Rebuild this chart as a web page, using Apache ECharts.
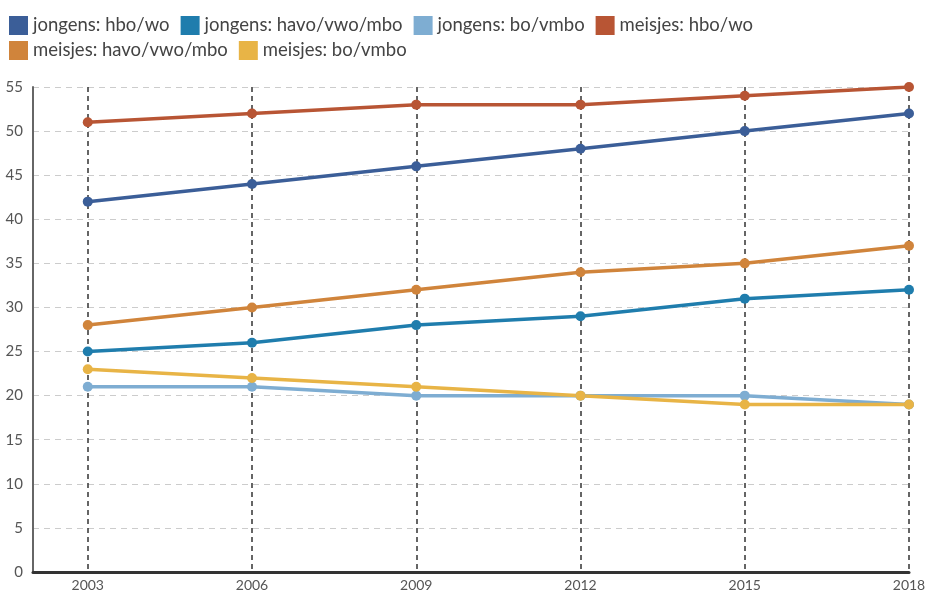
<!DOCTYPE html>
<html><head><meta charset="utf-8">
<script src="https://cdn.jsdelivr.net/npm/echarts@6/dist/echarts.min.js"></script>
<style>html,body{margin:0;padding:0;background:#fff}#c{width:926px;height:591px}</style>
</head><body><div id="c"></div>
<script>
const years = [2003, 2006, 2009, 2012, 2015, 2018];
const seriesNames = ['jongens: hbo/wo','jongens: havo/vwo/mbo','jongens: bo/vmbo','meisjes: hbo/wo','meisjes: havo/vwo/mbo','meisjes: bo/vmbo'];
const jongensHbo = [42,44,46,48,50,52];
const jongensHavo = [25,26,28,29,31,32];
const jongensBo = [21,21,20,20,20,19];
const meisjesHbo = [51,52,53,53,54,55];
const meisjesHavo = [28,30,32,34,35,37];
const meisjesBo = [23,22,21,20,19,19];
const yTicks = [0,5,10,15,20,25,30,35,40,45,50,55];
const colors = ['#3b5e98','#1f7dad','#7eadd2','#b85534','#d0843b','#e8b446'];
const allData = [jongensHbo,jongensHavo,jongensBo,meisjesHbo,meisjesHavo,meisjesBo];

const legendBase = {
  left:4, itemWidth:19, itemHeight:19, itemGap:11, icon:'rect',
  textStyle:{fontFamily:'Lato', fontSize:18.5, color:'#444'}
};
const chart = echarts.init(document.getElementById('c'));
chart.setOption({
  animation:false,
  color:colors,
  legend:[
    Object.assign({}, legendBase, {top:11, data:seriesNames.slice(0,4)}),
    Object.assign({}, legendBase, {top:36, data:seriesNames.slice(4)})
  ],
  grid:{left:33, right:17, top:87, bottom:19, outerBoundsMode:'none', containLabel:false},
  xAxis:{
    type:'value', min:2002, max:2018,
    axisLine:{lineStyle:{color:'#333', width:3}},
    axisTick:{show:false, customValues:years},
    axisLabel:{customValues:years, formatter:v=>String(v), fontFamily:'Lato', fontSize:14, color:'#555', margin:6},
    splitLine:{show:true, lineStyle:{color:'#333', type:[5,4], width:1.5}}
  },
  yAxis:{
    type:'value', min:0, max:55, interval:5,
    axisLine:{show:true, lineStyle:{color:'#666', width:2}},
    axisTick:{show:false},
    axisLabel:{customValues:yTicks, fontFamily:'Lato', fontSize:15, color:'#555', margin:10},
    splitLine:{lineStyle:{color:'#ccc', type:[6,5], width:1}}
  },
  series: seriesNames.map((n,i)=>({
    name:n, type:'line', data: years.map((y,j)=>[y, allData[i][j]]),
    symbol:'circle', symbolSize:10, lineStyle:{width:3.5}, z: 3
  }))
});
</script></body></html>
